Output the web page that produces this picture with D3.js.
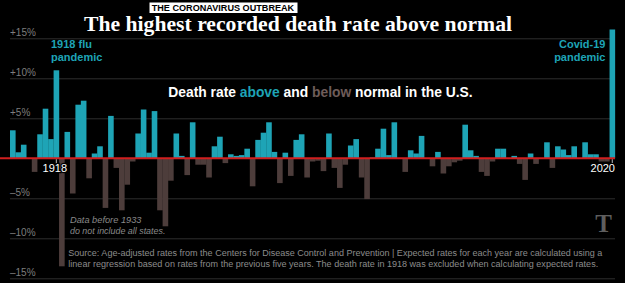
<!DOCTYPE html>
<html><head><meta charset="utf-8">
<script src="https://cdn.jsdelivr.net/npm/d3@7"></script>
<style>
html,body{margin:0;padding:0;background:#000;overflow:hidden}
svg{display:block}
</style></head><body>
<svg id="chart" width="625" height="283"></svg>
<script>
// ---- data ----
const years = d3.range(1910, 2021);
const excess = [
  3.5, 0.75, 1.7, 0, -1.7, 3.0, 6.2, 2.4, 11.0, -13.5,      // 1910-1919
  3.3, -4.4, 6.7, 7.2, -2.5, 0.6, 1.5, -6.2, 5.3, -1.2,      // 1920-1929
  -6.5, -3.3, -0.4, 3.1, 6.1, 0.7, 5.9, -6.5, -8.5, -2.8,    // 1930-1939
  3.1, 0.3, -2.1, 4.5, -0.8, -0.8, -2.4, 1.5, 2.7, -0.6,     // 1940-1949
  0.5, 0.3, 0.4, 1.2, -3.5, 2.3, 3.2, 4.5, 0.8, -3.1,        // 1950-1959
  0.7, -2.2, 2.3, 3.0, -2.4, -0.4, -0.3, -1.6, 3.1, -1.2,    // 1960-1969
  -3.7, -0.8, 1.6, 2.4, -2.4, -5.1, 0.1, 1.2, 3.7, 0.4,      // 1970-1979
  4.5, 0, -1.7, 1.0, 0.6, 2.8, 0, -1.0, 0.8, -1.9,           // 1980-1989
  -1.0, -0.5, -0.3, 4.2, 1.0, 0.3, -1.7, -2.2, -0.4, 1.2,    // 1990-1999
  1.2, 0, 0.3, -0.7, -2.7, 0.6, -0.7, 0, 2.0, -1.2,          // 2000-2009
  1.5, 1.1, 0.4, 1.5, 0, 2.0, 0.5, 0.5, -0.4, -0.4,          // 2010-2019
  16.1                                                       // 2020
];
const yTicks = [-15, -10, -5, 5, 10, 15];
const yTickLabels = ["–15%", "–10%", "–5%", "+5%", "+10%", "+15%"];
const labeledYears = [1918, 2020];
const labeledYearText = ["1918", "2020"];

const badgeText = "THE CORONAVIRUS OUTBREAK";
const titleText = "The highest recorded death rate above normal";
const subtitleParts = [["Death rate ", "w"], ["above", "pos"], [" and ", "w"], ["below", "neg"], [" normal in the U.S.", "w"]];
const fluLabel = ["1918 flu", "pandemic"];
const covidLabel = ["Covid-19", "pandemic"];
const noteLines = ["Data before 1933", "do not include all states."];
const sourceLines = [
  "Source: Age-adjusted rates from the Centers for Disease Control and Prevention | Expected rates for each year are calculated using a",
  "linear regression based on rates from the previous five years. The death rate in 1918 was excluded when calculating expected rates."
];

// ---- styles ----
const POS = "#1ea4b6", NEG = "#4d3d3b", RED = "#d11f1f", GRID = "#2e2e2e", TICK = "#7d7d7d";
const SANS = "'Liberation Sans', Arial, sans-serif";
const NARROW = "'Liberation Sans Narrow', 'Liberation Sans', Arial, sans-serif";
const SERIF = "'Liberation Serif', 'DejaVu Serif', serif";

const W = 625, H = 283;
const svg = d3.select("#chart");
svg.append("rect").attr("width", W).attr("height", H).attr("fill", "#000");

const x = d3.scaleBand().domain(years).range([10, 615]).padding(0);
const y = d3.scaleLinear().domain([-15, 15]).range([278.3, 38.3]);

// gridlines + tick labels via axis
const yAxis = d3.axisRight(y).tickValues(yTicks).tickSize(605)
  .tickFormat((d, i) => yTickLabels[i]);
const ag = svg.append("g").attr("transform", "translate(10,0)").call(yAxis);
ag.select(".domain").remove();
ag.selectAll(".tick line").attr("stroke", GRID).attr("stroke-width", 1);
ag.selectAll(".tick text")
  .attr("x", 0).attr("dy", 0).attr("y", -3)
  .attr("text-anchor", "start")
  .attr("fill", TICK).style("font-family", SANS).style("font-size", "10px");

// bars
svg.append("g").selectAll("rect").data(years).join("rect")
  .attr("x", d => x(d))
  .attr("width", x.bandwidth() + 0.15)
  .attr("y", (d, i) => excess[i] >= 0 ? y(excess[i]) : y(0))
  .attr("height", (d, i) => Math.abs(y(excess[i]) - y(0)))
  .attr("fill", (d, i) => excess[i] >= 0 ? POS : NEG);

// zero line
svg.append("line").attr("x1", 0).attr("x2", 615).attr("y1", y(0)).attr("y2", y(0))
  .attr("stroke", RED).attr("stroke-width", 2);

// year ticks and labels
labeledYears.forEach((yr, i) => {
  const cx = x(yr) + x.bandwidth() / 2;
  svg.append("line").attr("x1", cx).attr("x2", cx).attr("y1", y(0) + 1).attr("y2", y(0) + 5)
    .attr("stroke", "#bbb").attr("stroke-width", 1);
  svg.append("text").text(labeledYearText[i])
    .attr("x", i === 0 ? cx - 1.5 : 615).attr("y", 171.7)
    .attr("text-anchor", i === 0 ? "middle" : "end")
    .attr("fill", "#fff").attr("stroke", "#000").attr("stroke-width", 2.5)
    .style("paint-order", "stroke")
    .style("font-family", SANS).style("font-size", "11px");
});

// badge
svg.append("rect").attr("x", 149.5).attr("y", 2.5).attr("width", 148).attr("height", 10.5).attr("fill", "#fff");
svg.append("text").text(badgeText).attr("x", 151.7).attr("y", 11)
  .attr("textLength", 142.5).attr("lengthAdjust", "spacingAndGlyphs")
  .attr("fill", "#000").style("font-family", SANS).style("font-weight", "bold").style("font-size", "9.4px");

// title
svg.append("text").text(titleText).attr("x", 84).attr("y", 30.8)
  .attr("textLength", 428).attr("lengthAdjust", "spacingAndGlyphs")
  .attr("fill", "#fff").style("font-family", SERIF).style("font-weight", "bold").style("font-size", "21.5px");

// subtitle
const sub = svg.append("text").attr("x", 168.3).attr("y", 96.5)
  .style("font-family", SANS).style("font-weight", "bold").style("font-size", "13px");
sub.selectAll("tspan").data(subtitleParts).join("tspan")
  .text(d => d[0])
  .attr("fill", d => d[1] === "pos" ? POS : d[1] === "neg" ? "#6e5c59" : "#fff");
{
  const len = sub.node().getComputedTextLength();
  if (len > 0) sub.style("font-size", (13 * 304.5 / len) + "px");
}

// annotations
const fl = svg.append("text").attr("x", 51).attr("y", 48.3)
  .attr("fill", POS).style("font-family", SANS).style("font-weight", "bold").style("font-size", "11px");
fl.selectAll("tspan").data(fluLabel).join("tspan").attr("x", 51).attr("dy", (d, i) => i ? 12.7 : 0).text(d => d);

const cl = svg.append("text").attr("x", 605.5).attr("y", 48.3).attr("text-anchor", "end")
  .attr("fill", POS).style("font-family", SANS).style("font-weight", "bold").style("font-size", "11px");
cl.selectAll("tspan").data(covidLabel).join("tspan").attr("x", 605.5).attr("dy", (d, i) => i ? 12.7 : 0).text(d => d);

noteLines.forEach((t, i) => {
  const tx = svg.append("text").text(t).attr("x", 70).attr("y", 223 + i * 10.6)
    .attr("fill", "#8a8a8a").attr("stroke", "#000").attr("stroke-width", 2).style("paint-order", "stroke")
    .style("font-family", NARROW).style("font-style", "italic").style("font-size", "9.5px");
  const target = i ? 95.5 : 71.5;
  const len = tx.node().getComputedTextLength();
  if (len > target) tx.style("font-size", (9.5 * target / len) + "px");
});

sourceLines.forEach((t, i) => {
  const tx = svg.append("text").text(t).attr("x", 68.3).attr("y", 255.8 + i * 10.8)
    .attr("fill", "#8c8c8c").style("font-family", NARROW).style("font-size", "9.6px");
  const target = i ? 530 : 534;
  const len = tx.node().getComputedTextLength();
  if (len > target) tx.style("font-size", (9.6 * target / len) + "px");
});

// logo
svg.append("text").text("T").attr("x", 603.5).attr("y", 231.5).attr("text-anchor", "middle")
  .attr("fill", "#5e5e5e").style("font-family", SERIF).style("font-weight", "bold").style("font-size", "25px");
</script>
</body></html>
